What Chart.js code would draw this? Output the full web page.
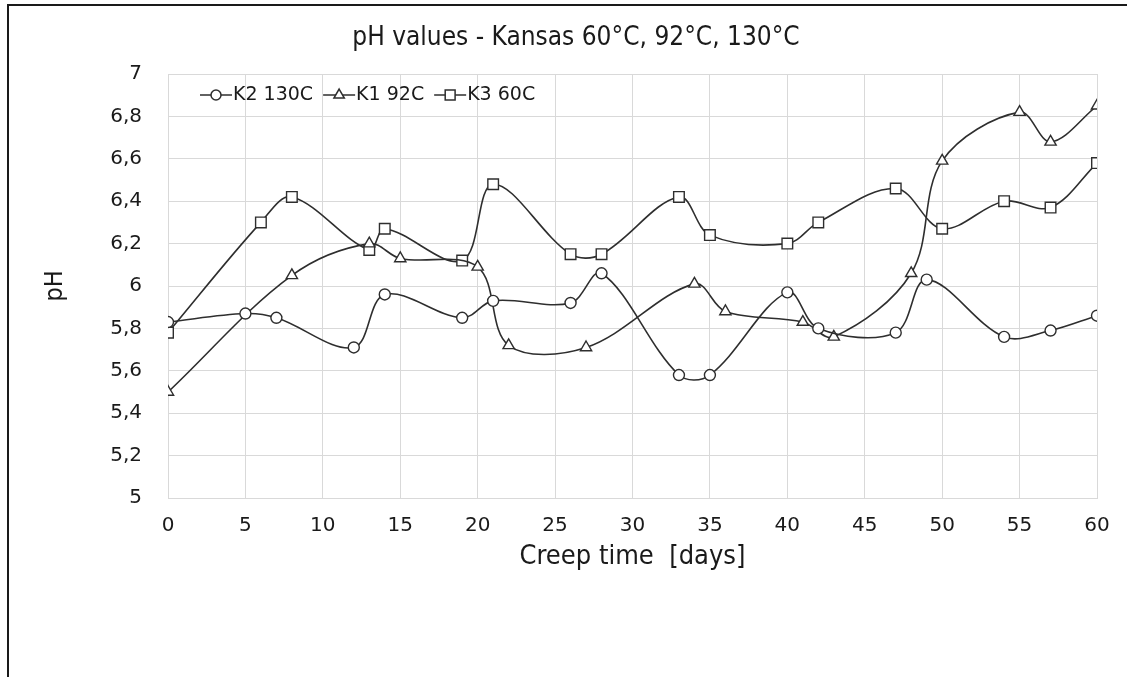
<!DOCTYPE html>
<html>
<head>
<meta charset="utf-8">
<script src="https://cdn.jsdelivr.net/npm/chart.js@4.4.1/dist/chart.umd.min.js"></script>
<style>
  body { margin: 0; background: #fff; }
  #wrap { position: relative; width: 1127px; height: 677px; overflow: hidden; }
  #frame { position: absolute; left: 7px; top: 4px; width: 1200px; height: 800px;
           border-left: 2px solid #1a1a1a; border-top: 2px solid #1a1a1a; pointer-events: none; }
</style>
</head>
<body>
<div id="wrap">
  <canvas id="phChart" width="1127" height="677"></canvas>
  <div id="frame"></div>
</div>
<script>
// K2 130C
const k2Days = [0, 5, 7, 12, 14, 19, 21, 26, 28, 33, 35, 40, 42, 47, 49, 54, 57, 60];
const k2PH = [5.83, 5.87, 5.85, 5.71, 5.96, 5.85, 5.93, 5.92, 6.06, 5.58, 5.58, 5.97, 5.80, 5.78, 6.03, 5.76, 5.79, 5.86];
// K1 92C
const k1Days = [0, 8, 13, 15, 20, 22, 27, 34, 36, 41, 43, 48, 50, 55, 57, 60];
const k1PH = [5.50, 6.05, 6.20, 6.13, 6.09, 5.72, 5.71, 6.01, 5.88, 5.83, 5.76, 6.06, 6.59, 6.82, 6.68, 6.85];
// K3 60C
const k3Days = [0, 6, 8, 13, 14, 19, 21, 26, 28, 33, 35, 40, 42, 47, 50, 54, 57, 60];
const k3PH = [5.78, 6.30, 6.42, 6.17, 6.27, 6.12, 6.48, 6.15, 6.15, 6.42, 6.24, 6.20, 6.30, 6.46, 6.27, 6.40, 6.37, 6.58];

const seriesLabels = ['K2 130C', 'K1 92C', 'K3 60C'];
const chartTitle = 'pH values - Kansas 60°C, 92°C, 130°C';

const ink = '#2e2e2e';
const textColor = '#1a1a1a';
const gridColor = '#d9d9d9';
const tickFont = { family: '"DejaVu Sans", sans-serif', size: 20 };
const narrowFont = '"Liberation Sans Narrow", "DejaVu Sans Condensed", sans-serif';

function series(days, ph) {
  return days.map((d, i) => ({ x: d, y: ph[i] }));
}

const datasets = [
  { label: seriesLabels[0], data: series(k2Days, k2PH), pointStyle: 'circle', pointRadius: 5.5 },
  { label: seriesLabels[1], data: series(k1Days, k1PH), pointStyle: 'triangle', pointRadius: 6.5 },
  { label: seriesLabels[2], data: series(k3Days, k3PH), pointStyle: 'rect', pointRadius: 7.5 }
].map(ds => Object.assign(ds, {
  borderColor: ink,
  borderWidth: 1.6,
  pointBorderColor: ink,
  pointBackgroundColor: '#fff',
  pointBorderWidth: 1.4,
  pointHoverRadius: ds.pointRadius,
  tension: 0.35,
  fill: false
}));

// Legend drawn inside the plot, Excel style: line with marker in the middle
const insideLegend = {
  id: 'insideLegend',
  afterDatasetsDraw(chart) {
    const { ctx, chartArea } = chart;
    let x = chartArea.left + 32;
    const y = chartArea.top + 21;
    ctx.save();
    ctx.font = '19px "DejaVu Sans", sans-serif';
    ctx.textBaseline = 'middle';
    chart.data.datasets.forEach(ds => {
      ctx.strokeStyle = ink;
      ctx.lineWidth = 1.5;
      ctx.beginPath();
      ctx.moveTo(x, y);
      ctx.lineTo(x + 32, y);
      ctx.stroke();
      ctx.fillStyle = '#fff';
      Chart.helpers.drawPoint(ctx, { pointStyle: ds.pointStyle, radius: ds.pointRadius - 0.5, borderWidth: 1.3, rotation: 0 }, x + 16, y);
      ctx.fillStyle = textColor;
      ctx.fillText(ds.label, x + 33, y);
      x += 33 + ctx.measureText(ds.label).width + 10;
    });
    ctx.restore();
  }
};

new Chart(document.getElementById('phChart'), {
  type: 'line',
  data: { datasets: datasets },
  plugins: [insideLegend],
  options: {
    responsive: false,
    animation: false,
    layout: { padding: { left: 55, right: 30, top: 0, bottom: 104 } },
    plugins: {
      legend: { display: false },
      tooltip: { enabled: false },
      title: {
        display: true,
        text: chartTitle,
        color: textColor,
        font: { family: narrowFont, size: 26, weight: 'normal', lineHeight: 1 },
        padding: { top: 25, bottom: 23 }
      }
    },
    scales: {
      x: {
        type: 'linear',
        min: 0,
        max: 60,
        ticks: { stepSize: 5, font: tickFont, color: textColor, padding: 16, maxRotation: 0 },
        grid: { color: gridColor, drawTicks: false },
        border: { color: gridColor },
        title: {
          display: true,
          text: 'Creep time  [days]',
          color: textColor,
          font: { family: narrowFont, size: 27 },
          padding: 0
        },
        afterFit: s => { s.height = 75; }
      },
      y: {
        min: 5,
        max: 7,
        ticks: {
          stepSize: 0.2,
          font: tickFont,
          color: textColor,
          padding: 26,
          callback: v => String(Math.round(v * 10) / 10).replace('.', ',')
        },
        grid: { color: gridColor, drawTicks: false },
        border: { color: gridColor },
        title: {
          display: true,
          text: 'pH',
          color: textColor,
          font: { family: narrowFont, size: 25 },
          padding: { top: -15 }
        },
        afterFit: s => { s.width = 113; }
      }
    }
  }
});
</script>
</body>
</html>
